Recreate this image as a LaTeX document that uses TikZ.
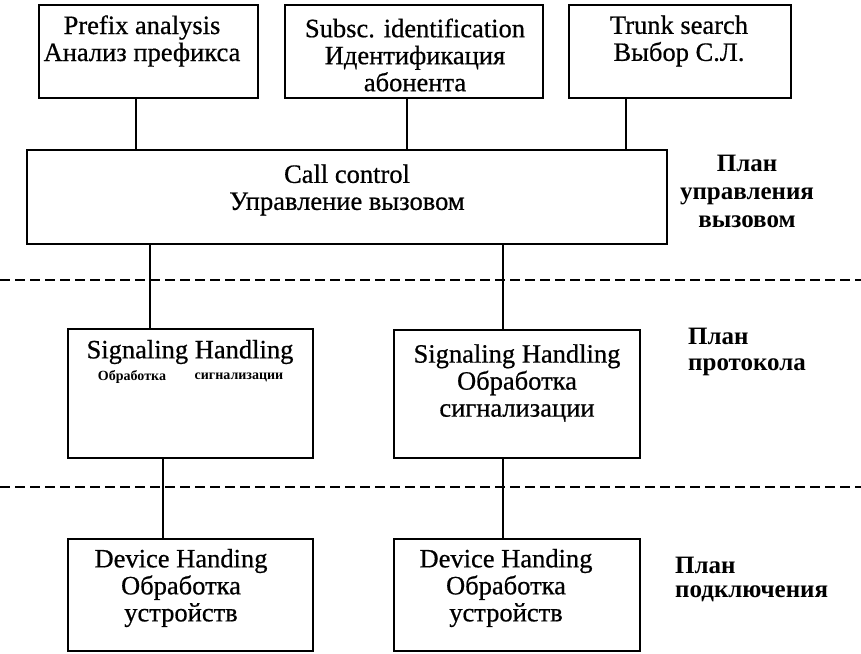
\documentclass[tikz,border=0pt]{standalone}
\usepackage{fontspec}
\setmainfont{Liberation Serif}[UprightFeatures={FakeBold=0.6}]
\begin{document}
\begin{tikzpicture}[x=1pt,y=-1pt,
  box/.style={draw, line width=1.6pt, inner sep=0pt, fill=none},
  boxtext/.style={align=center, inner sep=0pt, font=\fontsize{26.5}{27}\selectfont},
  smalltext/.style={inner sep=0pt, font=\fontsize{14}{15}\selectfont\bfseries},
  planlabel/.style={inner sep=0pt, font=\fontsize{25}{28}\selectfont\bfseries},
  link/.style={line width=1.6pt},
  planline/.style={line width=1.5pt, dash pattern=on 10pt off 5pt}]
\useasboundingbox (0,0) rectangle (861,653);

% --- functional blocks ---
\node[box, minimum width=219pt, minimum height=93pt] (prefix) at (148.5,51.5) {};
\node[box, minimum width=258pt, minimum height=93pt] (subsc)  at (414,51.5) {};
\node[box, minimum width=222pt, minimum height=93pt] (trunk)  at (680,51.5) {};
\node[box, minimum width=640pt, minimum height=94pt] (call)   at (347,197) {};
\node[box, minimum width=245pt, minimum height=129pt] (sigA)  at (190.5,393.5) {};
\node[box, minimum width=246pt, minimum height=128pt] (sigB)  at (517,394) {};
\node[box, minimum width=245pt, minimum height=112pt] (devA)  at (190.5,595) {};
\node[box, minimum width=246pt, minimum height=112pt] (devB)  at (517,595) {};

% --- block captions ---
\node[boxtext] (prefixT) at (142,41)  {Prefix analysis\\Анализ префикса};
\node[boxtext] (subscT)  at (415,55)  {Subsc. identification\\Идентификация\\абонента};
\node[boxtext] (trunkT)  at (679,41)  {Trunk search\\Выбор С.Л.};
\node[boxtext] (callT)   at (347,190) {Call control\\Управление вызовом};
\node[boxtext] (sigAT)   at (190,352) {Signaling Handling};
\node[smalltext] (sigAa) at (132,377) {Обработка};
\node[smalltext] (sigAb) at (239,377) {сигнализации};
\node[boxtext] (sigBT)   at (517,383) {Signaling Handling\\Обработка\\сигнализации};
\node[boxtext] (devAT)   at (181,588) {Device Handing\\Обработка\\устройств};
\node[boxtext] (devBT)   at (506,588) {Device Handing\\Обработка\\устройств};

% --- plane labels ---
\node[planlabel, align=center] (planCtl) at (747,191) {План\\управления\\вызовом};
\node[planlabel, align=left, anchor=west, font=\fontsize{25}{26}\selectfont\bfseries] (planProt) at (688,352) {План\\протокола};
\node[planlabel, align=left, anchor=west, font=\fontsize{25}{24}\selectfont\bfseries] (planConn) at (675,579) {План\\подключения};

% --- vertical links ---
\coordinate (xA) at (136,0);
\coordinate (xB) at (407,0);
\coordinate (xC) at (626,0);
\coordinate (xD) at (150,0);
\coordinate (xE) at (503,0);
\coordinate (xF) at (163,0);
\draw[link] (prefix.south -| xA) -- (call.north -| xA);
\draw[link] (subsc.south -| xB) -- (call.north -| xB);
\draw[link] (trunk.south -| xC) -- (call.north -| xC);
\draw[link] (call.south -| xD) -- (sigA.north -| xD);
\draw[link] (call.south -| xE) -- (sigB.north -| xE);
\draw[link] (sigA.south -| xF) -- (devA.north -| xF);
\draw[link] (sigB.south -| xE) -- (devB.north -| xE);

% --- plane boundaries ---
\coordinate (bndAl) at (0,280);
\coordinate (bndAr) at (861,280);
\coordinate (bndBl) at (0,487);
\coordinate (bndBr) at (861,487);
\draw[planline] (bndAl) -- (bndAr);
\draw[planline] (bndBl) -- (bndBr);
\end{tikzpicture}
\end{document}
